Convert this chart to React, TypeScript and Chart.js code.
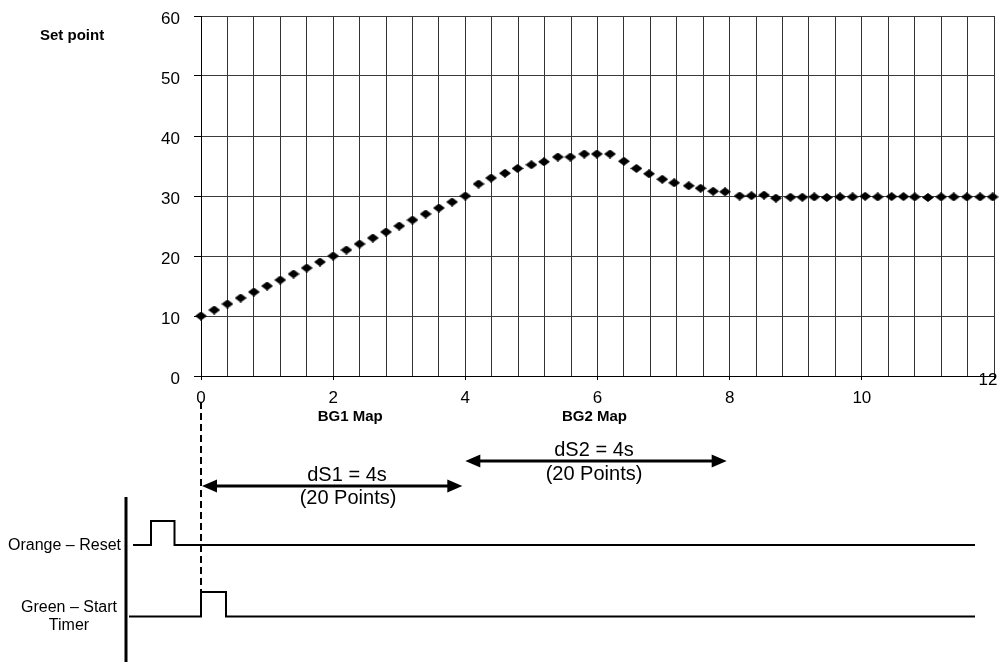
import React, { useEffect, useRef } from "react";
import { Chart, registerables } from "chart.js";

Chart.register(...registerables);

// ---- Data ----
const timeSec: number[] = [
  0, 0.2, 0.4, 0.6, 0.8, 1.0, 1.2, 1.4, 1.6, 1.8,
  2.0, 2.2, 2.4, 2.6, 2.8, 3.0, 3.2, 3.4, 3.6, 3.8,
  4.0, 4.2, 4.39, 4.6, 4.79, 5.0, 5.19, 5.4, 5.59, 5.8,
  5.99, 6.19, 6.4, 6.59, 6.78, 6.98, 7.16, 7.38, 7.56, 7.75,
  7.93, 8.15, 8.33, 8.52, 8.7, 8.92, 9.1, 9.28, 9.47, 9.67,
  9.86, 10.05, 10.24, 10.45, 10.63, 10.8, 11.0, 11.2, 11.39, 11.59,
  11.79, 11.98,
];

const setPoint: number[] = [
  10, 11, 12, 13, 14, 15, 16, 17, 18, 19,
  20, 21, 22, 23, 24, 25, 26, 27, 28, 29,
  30, 32, 33, 33.8, 34.6, 35.2, 35.7, 36.5, 36.5, 37,
  37, 37, 35.8, 34.6, 33.7, 32.8, 32.2, 31.7, 31.3, 30.8,
  30.7, 30.0, 30.05, 30.15, 29.65, 29.8, 29.8, 29.85, 29.75, 29.85,
  29.85, 29.95, 29.85, 29.9, 29.9, 29.85, 29.75, 29.85, 29.85, 29.85,
  29.85, 29.85,
];

const xGridValues: number[] = [
  0, 0.4, 0.8, 1.2, 1.6, 2, 2.4, 2.8, 3.2, 3.6, 4, 4.4, 4.8, 5.2, 5.6, 6,
  6.4, 6.8, 7.2, 7.6, 8, 8.4, 8.8, 9.2, 9.6, 10, 10.4, 10.8, 11.2, 11.6, 12,
];
const xTickLabels: string[] = ["0", "2", "4", "6", "8", "10", "12"];
const yTickValues: number[] = [0, 10, 20, 30, 40, 50, 60];

const FONT = '"Liberation Sans", Arial, Helvetica, sans-serif';

function isMajor(v: number) {
  return Math.abs(v / 2 - Math.round(v / 2)) < 1e-6;
}

function makeDiamond(): HTMLCanvasElement {
  const c = document.createElement("canvas");
  c.width = 12;
  c.height = 9;
  const g = c.getContext("2d")!;
  g.fillStyle = "#000";
  g.beginPath();
  g.moveTo(0, 4.5);
  g.lineTo(6, 0);
  g.lineTo(12, 4.5);
  g.lineTo(6, 9);
  g.closePath();
  g.fill();
  return c;
}

function arrow(ctx: CanvasRenderingContext2D, x1: number, x2: number, y: number) {
  const head = 15;
  const half = 6.5;
  ctx.lineWidth = 3;
  ctx.strokeStyle = "#000";
  ctx.fillStyle = "#000";
  ctx.beginPath();
  ctx.moveTo(x1 + head - 2, y);
  ctx.lineTo(x2 - head + 2, y);
  ctx.stroke();
  ctx.beginPath();
  ctx.moveTo(x1, y);
  ctx.lineTo(x1 + head, y - half);
  ctx.lineTo(x1 + head, y + half);
  ctx.closePath();
  ctx.fill();
  ctx.beginPath();
  ctx.moveTo(x2, y);
  ctx.lineTo(x2 - head, y - half);
  ctx.lineTo(x2 - head, y + half);
  ctx.closePath();
  ctx.fill();
}

const annotationPlugin = {
  id: "timingAnnotations",
  afterDraw(chart: any) {
    const ctx: CanvasRenderingContext2D = chart.ctx;
    const xs = chart.scales.x;
    const px = (v: number) => xs.getPixelForValue(v);
    ctx.save();
    ctx.fillStyle = "#000";

    // last x tick label (sits on the axis, at the right edge)
    ctx.font = `17px ${FONT}`;
    ctx.textAlign = "center";
    ctx.textBaseline = "middle";
    ctx.fillText(xTickLabels[6], px(12) - 6, 380);

    // y axis title
    ctx.font = `bold 15px ${FONT}`;
    ctx.textAlign = "left";
    ctx.textBaseline = "alphabetic";
    ctx.fillText("Set point", 40, 40);

    // map labels
    ctx.font = `bold 15px ${FONT}`;
    ctx.textAlign = "center";
    ctx.fillText("BG1 Map", px(2) + 17, 421);
    ctx.fillText("BG2 Map", px(6) - 3, 421);

    // dashed start line
    ctx.save();
    ctx.strokeStyle = "#000";
    ctx.lineWidth = 2;
    ctx.setLineDash([7, 4]);
    ctx.beginPath();
    ctx.moveTo(px(0), 402);
    ctx.lineTo(px(0), 592);
    ctx.stroke();
    ctx.restore();

    // dS1 arrow
    arrow(ctx, px(0) + 1, px(4) - 3, 486);
    ctx.font = `20px ${FONT}`;
    ctx.textAlign = "center";
    ctx.fillText("dS1 = 4s", 347, 481);
    ctx.fillText("(20 Points)", 348, 504);

    // dS2 arrow
    arrow(ctx, px(4), px(8) - 3, 461);
    ctx.fillText("dS2 = 4s", 594, 456);
    ctx.fillText("(20 Points)", 594, 480);

    // thick vertical bar
    ctx.fillRect(124.5, 497, 3, 165);

    // signal lines
    ctx.strokeStyle = "#000";
    ctx.lineWidth = 2;
    ctx.lineJoin = "miter";
    ctx.beginPath();
    ctx.moveTo(133, 545);
    ctx.lineTo(151, 545);
    ctx.lineTo(151, 521);
    ctx.lineTo(174.5, 521);
    ctx.lineTo(174.5, 545);
    ctx.lineTo(975, 545);
    ctx.stroke();

    ctx.beginPath();
    ctx.moveTo(129, 616.5);
    ctx.lineTo(px(0), 616.5);
    ctx.lineTo(px(0), 592);
    ctx.lineTo(226, 592);
    ctx.lineTo(226, 616.5);
    ctx.lineTo(975, 616.5);
    ctx.stroke();

    // signal labels
    ctx.font = `16px ${FONT}`;
    ctx.textAlign = "right";
    ctx.fillText("Orange \u2013 Reset", 121, 550);
    ctx.textAlign = "center";
    ctx.fillText("Green \u2013 Start", 69, 612);
    ctx.fillText("Timer", 69, 630);

    ctx.restore();
  },
};

export default function App() {
  const ref = useRef<HTMLCanvasElement | null>(null);

  useEffect(() => {
    if (!ref.current) return;
    const diamond = makeDiamond();
    const chart = new Chart(ref.current, {
      type: "scatter",
      data: {
        datasets: [
          {
            label: "Set point",
            data: timeSec.map((t, i) => ({ x: t, y: setPoint[i] })),
            pointStyle: diamond as any,
            pointRadius: 6,
            backgroundColor: "#000",
            borderColor: "#000",
            showLine: false,
            clip: false as any,
          },
        ],
      },
      options: {
        animation: false,
        responsive: false,
        events: [],
        layout: { padding: { left: 0, top: 16, right: 2, bottom: 662 - 376 - 40 } },
        plugins: {
          legend: { display: false },
          tooltip: { enabled: false },
          title: { display: false },
        },
        scales: {
          x: {
            type: "linear",
            min: 0,
            max: 12,
            afterBuildTicks: (scale: any) => {
              scale.ticks = xGridValues.map((v) => ({ value: v }));
            },
            afterFit: (scale: any) => {
              scale.height = 40;
              scale.paddingLeft = 0;
              scale.paddingRight = 0;
            },
            grid: {
              color: "#333",
              lineWidth: 1,
              drawTicks: true,
              tickLength: 4,
              tickColor: (c: any) => (c.tick && isMajor(c.tick.value) ? "#000" : "rgba(0,0,0,0)"),
            },
            border: { display: true, color: "#000", width: 1 },
            ticks: {
              autoSkip: false,
              maxRotation: 0,
              minRotation: 0,
              padding: 8,
              color: "#000",
              font: { family: FONT, size: 17 },
              callback: (value: any) => {
                const v = Number(value);
                if (!isMajor(v) || v > 11.5) return "";
                return xTickLabels[Math.round(v / 2)];
              },
            },
          },
          y: {
            type: "linear",
            min: 0,
            max: 60,
            afterBuildTicks: (scale: any) => {
              scale.ticks = yTickValues.map((v) => ({ value: v }));
            },
            afterFit: (scale: any) => {
              scale.width = 201;
              scale.paddingTop = 0;
              scale.paddingBottom = 0;
            },
            grid: {
              color: "#3a3a3a",
              lineWidth: 1,
              drawTicks: true,
              tickLength: 7,
              tickColor: "#000",
            },
            border: { display: true, color: "#000", width: 1 },
            ticks: {
              padding: 14,
              labelOffset: 3,
              color: "#000",
              font: { family: FONT, size: 17 },
              callback: (value: any) => String(value),
            },
          },
        },
      },
      plugins: [annotationPlugin],
    } as any);
    return () => chart.destroy();
  }, []);

  return (
    <div style={{ position: "absolute", left: 0, top: 0, width: 1001, height: 662, background: "#fff" }}>
      <canvas ref={ref} width={1001} height={662} style={{ width: 1001, height: 662, display: "block" }} />
    </div>
  );
}
